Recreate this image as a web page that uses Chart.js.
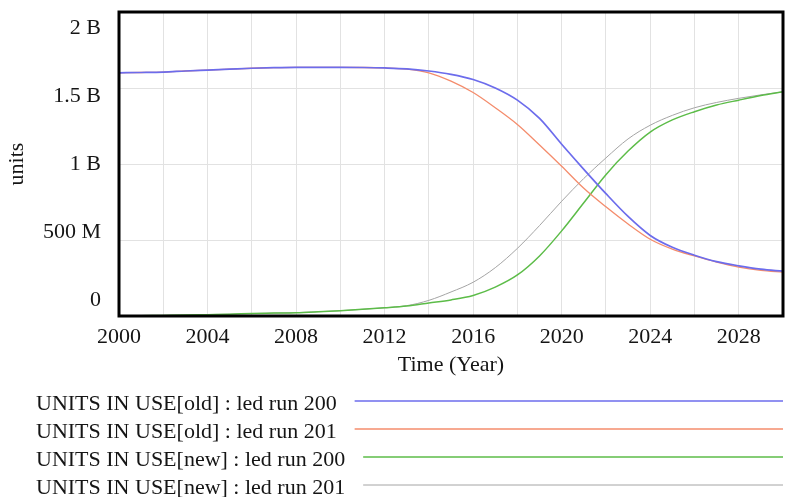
<!DOCTYPE html>
<html>
<head>
<meta charset="utf-8">
<title>UNITS IN USE</title>
<script src="https://cdn.jsdelivr.net/npm/chart.js@4/dist/chart.umd.min.js"></script>
<style>
  html, body { margin: 0; padding: 0; background: #ffffff; overflow: hidden; }
  #wrap { position: relative; width: 791px; height: 497px; }
</style>
</head>
<body>
<div id="wrap"><canvas id="chart" width="791" height="497"></canvas></div>
<script>
// Simulation output, one value per year (billions of units)
const years = [2000, 2001, 2002, 2003, 2004, 2005, 2006, 2007, 2008, 2009,
               2010, 2011, 2012, 2013, 2014, 2015, 2016, 2017, 2018, 2019,
               2020, 2021, 2022, 2023, 2024, 2025, 2026, 2027, 2028, 2029, 2030];

const oldRun200 = [1.600, 1.602, 1.605, 1.612, 1.618, 1.624, 1.630, 1.634, 1.636, 1.636,
                   1.636, 1.635, 1.632, 1.626, 1.612, 1.590, 1.556, 1.500, 1.420, 1.300,
                   1.130, 0.965, 0.805, 0.655, 0.530, 0.452, 0.400, 0.358, 0.330, 0.308, 0.295];

const oldRun201 = [1.600, 1.602, 1.605, 1.612, 1.618, 1.624, 1.630, 1.634, 1.636, 1.636,
                   1.636, 1.635, 1.632, 1.624, 1.600, 1.545, 1.470, 1.370, 1.260, 1.125,
                   0.985, 0.840, 0.718, 0.605, 0.505, 0.440, 0.395, 0.355, 0.322, 0.300, 0.288];

const newRun200 = [0.000, 0.002, 0.004, 0.006, 0.009, 0.012, 0.016, 0.019, 0.022, 0.028,
                   0.035, 0.044, 0.054, 0.066, 0.086, 0.106, 0.135, 0.190, 0.270, 0.395,
                   0.560, 0.745, 0.930, 1.085, 1.210, 1.290, 1.344, 1.388, 1.420, 1.450, 1.475];

const newRun201 = [0.000, 0.002, 0.004, 0.006, 0.009, 0.012, 0.016, 0.019, 0.022, 0.028,
                   0.035, 0.044, 0.054, 0.068, 0.103, 0.158, 0.222, 0.318, 0.445, 0.595,
                   0.755, 0.905, 1.040, 1.165, 1.255, 1.320, 1.370, 1.405, 1.432, 1.455, 1.475];

const seriesLabels = [
  'UNITS IN USE[old] : led run 200',
  'UNITS IN USE[old] : led run 201',
  'UNITS IN USE[new] : led run 200',
  'UNITS IN USE[new] : led run 201'
];

const yTickValues = [0, 0.5, 1, 1.5, 2];
const yTickLabels = ['0', '500 M', '1 B', '1.5 B', '2 B'];
const xTickLabels = ['2000', '2004', '2008', '2012', '2016', '2020', '2024', '2028'];

const FONT = '"Liberation Serif", "Times New Roman", serif';
const TEXT = '#151515';
Chart.defaults.font.family = FONT;
Chart.defaults.font.size = 22;
Chart.defaults.color = TEXT;

function points(values) {
  return years.map((yr, i) => ({ x: yr, y: values[i] }));
}

function yLabelFor(v) {
  const i = yTickValues.findIndex(t => Math.abs(t - v) < 1e-9);
  return i >= 0 ? yTickLabels[i] : '';
}

// Y labels are spread evenly inside the frame, first and last pulled in from the edges
const yLabelsPlugin = {
  id: 'yLabels',
  afterDraw(chart) {
    const s = chart.scales.y;
    const { ctx, chartArea: a } = chart;
    const h = a.bottom - a.top;
    const inset = 16;
    ctx.save();
    ctx.font = '22px ' + FONT;
    ctx.fillStyle = TEXT;
    ctx.textAlign = 'right';
    ctx.textBaseline = 'middle';
    s.ticks.forEach(t => {
      const py = s.getPixelForValue(t.value);
      const yy = a.top + inset + (py - a.top) * (h - 2 * inset) / h;
      ctx.fillText(yLabelFor(t.value), a.left - 18, yy);
    });
    ctx.restore();
  }
};

// Heavy black frame round the plot area
const framePlugin = {
  id: 'frame',
  afterDatasetsDraw(chart) {
    const { ctx, chartArea: a } = chart;
    ctx.save();
    ctx.strokeStyle = '#000';
    ctx.lineWidth = 3;
    ctx.strokeRect(a.left, a.top, a.right - a.left, a.bottom - a.top);
    ctx.restore();
  }
};

// Legend: label text followed by a long sample of the line
const lineLegendPlugin = {
  id: 'lineLegend',
  afterDraw(chart) {
    const { ctx } = chart;
    const x0 = 36, firstBaseline = 410, rowStep = 28, gap = 18, xEnd = 783;
    ctx.save();
    ctx.font = '22px ' + FONT;
    ctx.fillStyle = TEXT;
    ctx.textAlign = 'left';
    ctx.textBaseline = 'alphabetic';
    chart.data.datasets.forEach((ds, i) => {
      const base = firstBaseline + i * rowStep;
      ctx.fillText(ds.label, x0, base);
      const w = ctx.measureText(ds.label).width;
      ctx.beginPath();
      ctx.strokeStyle = ds.borderColor;
      ctx.lineWidth = ds.borderWidth;
      ctx.moveTo(x0 + w + gap, base - 9);
      ctx.lineTo(xEnd, base - 9);
      ctx.stroke();
    });
    ctx.restore();
  }
};

const colors = ['#6c6cec', '#f48c6c', '#5cbc48', '#a4a4a4'];
const widths = [1.7, 1.3, 1.5, 1];
const seriesValues = [oldRun200, oldRun201, newRun200, newRun201];

new Chart(document.getElementById('chart'), {
  type: 'line',
  data: {
    datasets: seriesValues.map((vals, i) => ({
      label: seriesLabels[i],
      data: points(vals),
      borderColor: colors[i],
      backgroundColor: colors[i],
      borderWidth: widths[i],
      pointRadius: 0,
      fill: false,
      cubicInterpolationMode: 'monotone'
    }))
  },
  options: {
    responsive: false,
    animation: false,
    devicePixelRatio: 1,
    layout: { padding: { top: 12, right: 6, bottom: 119, left: 0 } },
    plugins: {
      legend: { display: false },
      tooltip: { enabled: false }
    },
    scales: {
      x: {
        type: 'linear',
        min: 2000,
        max: 2030,
        afterFit(scale) { scale.height = 62; },
        ticks: {
          stepSize: 2,
          autoSkip: false,
          maxRotation: 0,
          padding: 8,
          font: { size: 22 },
          color: TEXT,
          callback: v => xTickLabels.includes(String(v)) ? String(v) : ''
        },
        grid: { color: '#e2e2e2', lineWidth: 1, drawTicks: false },
        border: { display: false },
        title: {
          display: true,
          text: 'Time (Year)',
          font: { size: 22 },
          color: TEXT,
          padding: { top: 0, bottom: 0 }
        }
      },
      y: {
        type: 'linear',
        min: 0,
        max: 2,
        afterFit(scale) { scale.width = 119; },
        afterBuildTicks(scale) { scale.ticks = yTickValues.map(v => ({ value: v })); },
        ticks: { display: false },
        grid: { color: '#e2e2e2', lineWidth: 1, drawTicks: false },
        border: { display: false },
        title: {
          display: true,
          text: 'units',
          font: { size: 22 },
          color: TEXT,
          padding: { top: 4, bottom: 0 }
        }
      }
    }
  },
  plugins: [yLabelsPlugin, framePlugin, lineLegendPlugin]
});
</script>
</body>
</html>
